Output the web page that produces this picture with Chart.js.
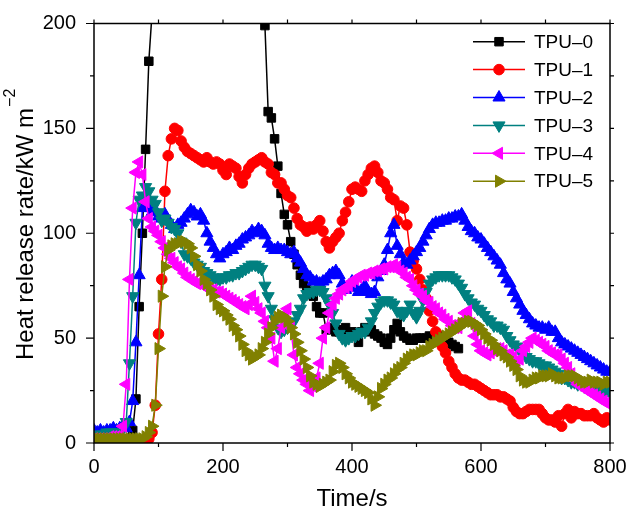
<!DOCTYPE html>
<html>
<head>
<meta charset="utf-8">
<title>Heat release rate</title>
<script src="https://cdn.jsdelivr.net/npm/chart.js"></script>
<style>
  html, body { margin: 0; padding: 0; background: #fff; }
  #wrap { width: 628px; height: 511px; }
</style>
</head>
<body>
<div id="wrap"><canvas id="hrrChart" width="628" height="511"></canvas></div>
<script>
// sampling interval of the cone calorimeter data (s)
const step = 5;

const seriesNames = ['TPU–0', 'TPU–1', 'TPU–2', 'TPU–3', 'TPU–4', 'TPU–5'];

// HRR values, kW/m2, one value every 5 s starting at 0 s (10 values per row = 50 s)
const tpu0 = [
  1, 1, 1, 1, 1, 1, 1, 1, 1, 2,
  2, 2, 6, 21, 65, 100, 140, 182, 205, 250,
  290, 320, 345, 360, 375, 385, 392, 398, 402, 405,
  408, 410, 410, 408, 405, 402, 400, 398, 395, 392,
  390, 385, 380, 375, 370, 365, 360, 350, 340, 330,
  315, 290, 240, 199, 158, 155, 145, 132, 119, 109,
  104, 96, 90, 85, 80, 76, 73, 71, 70, 65,
  62, 62, 54, 54, 55, 53, 53, 54, 55, 52,
  53, 51, 48, 53, 55, 53, 54, 52, 51, 50,
  48, 47, 50, 54, 57, 53, 51, 50, 49, 49,
  50, 50, 50, 50, 51, 49, 50, 51, 50, 49,
  48, 47, 46, 45
];
const tpu1 = [
  1, 1, 1, 1, 1, 1, 1, 1, 1, 1,
  1, 1, 1, 1, 1, 1, 1, 2, 5, 18,
  52, 78, 120, 137, 145, 150, 149, 144, 141, 139,
  138, 137, 136, 135, 134, 136, 134, 133, 134, 133,
  130, 128, 133, 132, 131, 127, 124, 128, 131, 133,
  134, 135, 136, 134, 133, 129, 128, 124, 124, 121,
  118, 117, 112, 107, 104, 103, 101, 103, 102, 104,
  106, 101, 96, 93, 96, 98, 100, 106, 110, 115,
  121, 122, 121, 120, 125, 128, 131, 132, 129, 125,
  124, 121, 117, 116, 106, 113, 112, 104, 91, 87,
  83, 78, 73, 69, 63, 58, 53, 49, 46, 43,
  39, 36, 33, 31, 30, 30, 29, 28, 28, 27,
  26, 25, 24, 23, 23, 23, 22, 22, 21, 20,
  17, 15, 14, 14, 15, 16, 16, 16, 16, 14,
  12, 11, 11, 10, 13, 8, 14, 16, 12, 15,
  14, 14, 13, 13, 13, 14, 12, 11, 10, 12,
  11
];
const tpu2 = [
  6, 5, 6, 5, 6, 6, 7, 6, 7, 8,
  7, 10, 20, 48, 80, 112, 116, 112, 110, 111,
  108, 107, 109, 106, 104, 102, 104, 105, 107, 109,
  111, 110, 108, 109, 106, 100, 96, 93, 90, 88,
  90, 91, 93, 92, 94, 95, 97, 98, 99, 101,
  100, 102, 101, 99, 95, 93, 92, 93, 92, 92,
  91, 90, 91, 88, 86, 83, 80, 79, 77, 77,
  76, 77, 78, 80, 81, 82, 80, 76, 73, 75,
  77, 74, 72, 73, 75, 72, 71, 72, 79, 82,
  85, 92, 100, 104, 94, 90, 86, 85, 87, 89,
  91, 93, 96, 99, 102, 104, 105, 105, 106, 106,
  107, 107, 108, 108, 109, 106, 103, 101, 100, 98,
  97, 95, 93, 91, 89, 87, 85, 81, 78, 76,
  72, 69, 66, 63, 61, 59, 57, 56, 55, 55,
  54, 55, 53, 53, 50, 48, 47, 46, 45, 44,
  43, 42, 41, 40, 39, 38, 37, 36, 35, 34,
  34
];
const tpu3 = [
  3, 4, 4, 4, 5, 5, 5, 5, 5, 7,
  10, 38, 70, 105, 116, 118, 122, 120, 116, 114,
  110, 106, 107, 105, 103, 102, 100, 96, 90, 89,
  88, 86, 85, 84, 82, 81, 80, 79, 78, 78,
  79, 79, 80, 80, 81, 81, 82, 83, 84, 85,
  85, 84, 83, 75, 70, 64, 59, 55, 53, 54,
  55, 56, 58, 61, 64, 69, 71, 72, 72, 73,
  73, 72, 69, 66, 62, 57, 52, 50, 49, 50,
  51, 51, 52, 53, 53, 55, 58, 62, 65, 67,
  68, 68, 67, 66, 63, 62, 61, 63, 66, 62,
  60, 63, 68, 72, 76, 78, 79, 80, 80, 80,
  80, 79, 78, 76, 74, 71, 69, 67, 66, 64,
  63, 61, 59, 58, 56, 56, 55, 54, 51, 49,
  47, 46, 44, 43, 41, 40, 39, 39, 38, 37,
  37, 36, 35, 34, 33, 31, 31, 30, 29, 29,
  28, 28, 27, 27, 26, 26, 26, 25, 24, 25,
  24
];
const tpu4 = [
  2, 2, 2, 2, 2, 3, 3, 3, 3, 8,
  28, 78, 112, 129, 134, 128, 115, 107, 103, 101,
  99, 96, 93, 90, 88, 86, 84, 83, 81, 79,
  78, 77, 76, 76, 75, 74, 73, 73, 72, 72,
  71, 70, 69, 68, 67, 66, 65, 64, 66, 70,
  67, 64, 62, 58, 55, 50, 39, 45, 55, 61,
  64, 55, 42, 36, 33, 30, 28, 25, 27, 31,
  38, 50, 55, 62, 66, 69, 71, 73, 74, 75,
  77, 78, 79, 80, 80, 81, 81, 82, 82, 83,
  83, 84, 84, 85, 84, 82, 81, 79, 78, 75,
  73, 71, 70, 68, 67, 65, 64, 62, 61, 59,
  58, 56, 55, 55, 58, 62, 63, 57, 51, 47,
  44, 43, 42, 43, 44, 45, 45, 44, 42, 42,
  41, 39, 40, 44, 46, 48, 50, 49, 48, 47,
  46, 44, 43, 42, 42, 40, 38, 36, 33, 30,
  28, 27, 26, 25, 24, 23, 22, 21, 20, 19,
  20
];
const tpu5 = [
  2, 2, 2, 2, 2, 2, 2, 2, 2, 2,
  2, 2, 2, 2, 2, 2, 3, 5, 8, 18,
  45, 70, 84, 92, 94, 95, 95, 96, 96, 95,
  93, 89, 85, 82, 78, 76, 73, 70, 66, 64,
  63, 61, 59, 56, 54, 51, 47, 44, 42, 40,
  41, 42, 45, 48, 52, 55, 58, 60, 61, 60,
  58, 55, 52, 48, 44, 40, 36, 32, 29, 28,
  27, 28, 29, 30, 34, 37, 38, 36, 33, 31,
  29, 28, 27, 26, 25, 24, 21, 18, 22, 26,
  28, 30, 31, 33, 35, 36, 38, 40, 41, 42,
  42, 43, 44, 44, 46, 47, 48, 49, 50, 51,
  52, 53, 54, 55, 57, 57, 58, 58, 57, 56,
  54, 52, 50, 49, 47, 45, 44, 42, 41, 39,
  37, 35, 32, 30, 29, 29, 30, 31, 31, 32,
  32, 32, 33, 32, 31, 31, 31, 32, 32, 32,
  31, 30, 29, 29, 30, 29, 29, 29, 28, 29,
  29
];

// axis ticks
const xTickValues = [0, 200, 400, 600, 800];
const xMinorTicks = [100, 300, 500, 700];
const yTickValues = [0, 50, 100, 150, 200];
const yMinorTicks = [25, 75, 125, 175];

const colors = ['#000000', '#ff0000', '#0000ff', '#008080', '#ff00ff', '#808000'];
const markers = [
  { style: 'rect', rotation: 0, radius: 6 },
  { style: 'circle', rotation: 0, radius: 5.3 },
  { style: 'triangle', rotation: 0, radius: 7 },
  { style: 'triangle', rotation: 180, radius: 7 },
  { style: 'triangle', rotation: -90, radius: 7 },
  { style: 'triangle', rotation: 90, radius: 7 }
];

const allSeries = [tpu0, tpu1, tpu2, tpu3, tpu4, tpu5];
const FONT = '"Liberation Sans", Arial, Helvetica, sans-serif';

const datasets = allSeries.map(function (vals, i) {
  return {
    label: seriesNames[i],
    data: vals.map(function (v, k) { return { x: k * step, y: v }; }),
    borderColor: colors[i],
    backgroundColor: colors[i],
    borderWidth: 1.5,
    pointStyle: markers[i].style,
    pointRotation: markers[i].rotation,
    pointRadius: markers[i].radius,
    pointBorderWidth: 1,
    pointBorderColor: colors[i],
    pointBackgroundColor: colors[i],
    pointHoverRadius: markers[i].radius,
    tension: 0,
    order: 5 - i // later series on top, like the original plot
  };
});

// no extra room for the end labels: the plot box is fixed by layout padding
function noScalePadding(s) {
  s.paddingLeft = 0;
  s.paddingRight = 0;
  s.paddingTop = 0;
  s.paddingBottom = 0;
}

// frame, minor ticks, rotated y title with superscript and the legend
const framePlugin = {
  id: 'frame',
  afterDatasetsDraw(chart) {
    const { ctx, chartArea: a, scales } = chart;
    const x = scales.x, y = scales.y;
    ctx.save();
    ctx.strokeStyle = '#000';
    ctx.lineWidth = 1.5;
    ctx.strokeRect(a.left, a.top, a.right - a.left, a.bottom - a.top);

    ctx.lineWidth = 1.2;
    ctx.beginPath();
    function xTick(v, len) {
      const px = x.getPixelForValue(v);
      ctx.moveTo(px, a.bottom); ctx.lineTo(px, a.bottom + len);
      ctx.moveTo(px, a.top); ctx.lineTo(px, a.top - 4);
    }
    function yTick(v, len) {
      const py = y.getPixelForValue(v);
      ctx.moveTo(a.left, py); ctx.lineTo(a.left - len, py);
      ctx.moveTo(a.right, py); ctx.lineTo(a.right + 4, py);
    }
    xTickValues.forEach(function (v) { xTick(v, 8); });
    xMinorTicks.forEach(function (v) { xTick(v, 4); });
    yTickValues.forEach(function (v) { yTick(v, 8); });
    yMinorTicks.forEach(function (v) { yTick(v, 4); });
    ctx.stroke();
    ctx.restore();
  },
  afterDraw(chart) {
    const ctx = chart.ctx;
    ctx.save();
    // y axis title
    ctx.fillStyle = '#000';
    ctx.translate(33, 360);
    ctx.rotate(-Math.PI / 2);
    ctx.font = '24px ' + FONT;
    ctx.textAlign = 'left';
    ctx.textBaseline = 'alphabetic';
    const main = 'Heat release rate/kW m';
    ctx.fillText(main, 0, 0);
    const w = ctx.measureText(main).width;
    ctx.font = '16px ' + FONT;
    ctx.fillText('\u22122', w + 1, -18);
    ctx.restore();

    // legend
    ctx.save();
    const rowTop = 41.7, rowGap = 27.9;
    seriesNames.forEach(function (name, i) {
      const ly = rowTop + i * rowGap;
      ctx.strokeStyle = colors[i];
      ctx.fillStyle = colors[i];
      ctx.lineWidth = 1.5;
      ctx.beginPath();
      ctx.moveTo(473, ly);
      ctx.lineTo(525, ly);
      ctx.stroke();
      ctx.lineWidth = 1;
      Chart.helpers.drawPoint(ctx, {
        pointStyle: markers[i].style,
        rotation: markers[i].rotation,
        radius: markers[i].radius,
        borderWidth: 1
      }, 499, ly);
      ctx.fillStyle = '#000';
      ctx.font = '19px ' + FONT;
      ctx.textAlign = 'left';
      ctx.textBaseline = 'middle';
      ctx.fillText(name, 534, ly + 1);
    });
    ctx.restore();
  }
};

const config = {
  type: 'line',
  data: { datasets: datasets },
  options: {
    responsive: false,
    animation: false,
    events: [],
    layout: { padding: { left: 0, right: 18, top: 23.5, bottom: 0 } },
    plugins: {
      legend: { display: false },
      tooltip: { enabled: false }
    },
    scales: {
      x: {
        type: 'linear',
        min: 0,
        max: 800,
        grid: { display: false, drawTicks: false },
        border: { display: false },
        afterBuildTicks: function (s) { s.ticks = xTickValues.map(function (v) { return { value: v }; }); },
        afterFit: function (s) { s.height = 68; noScalePadding(s); },
        ticks: {
          color: '#000',
          padding: 12,
          maxRotation: 0,
          font: { family: FONT, size: 20 }
        },
        title: {
          display: true,
          text: 'Time/s',
          color: '#000',
          padding: { top: 0, bottom: 0 },
          font: { family: FONT, size: 24, lineHeight: 1 }
        }
      },
      y: {
        type: 'linear',
        min: 0,
        max: 200,
        grid: { display: false, drawTicks: false },
        border: { display: false },
        afterBuildTicks: function (s) { s.ticks = yTickValues.map(function (v) { return { value: v }; }); },
        afterFit: function (s) { s.width = 94; noScalePadding(s); },
        ticks: {
          color: '#000',
          padding: 18,
          font: { family: FONT, size: 20 }
        }
      }
    }
  },
  plugins: [framePlugin]
};

new Chart(document.getElementById('hrrChart').getContext('2d'), config);
</script>
</body>
</html>
